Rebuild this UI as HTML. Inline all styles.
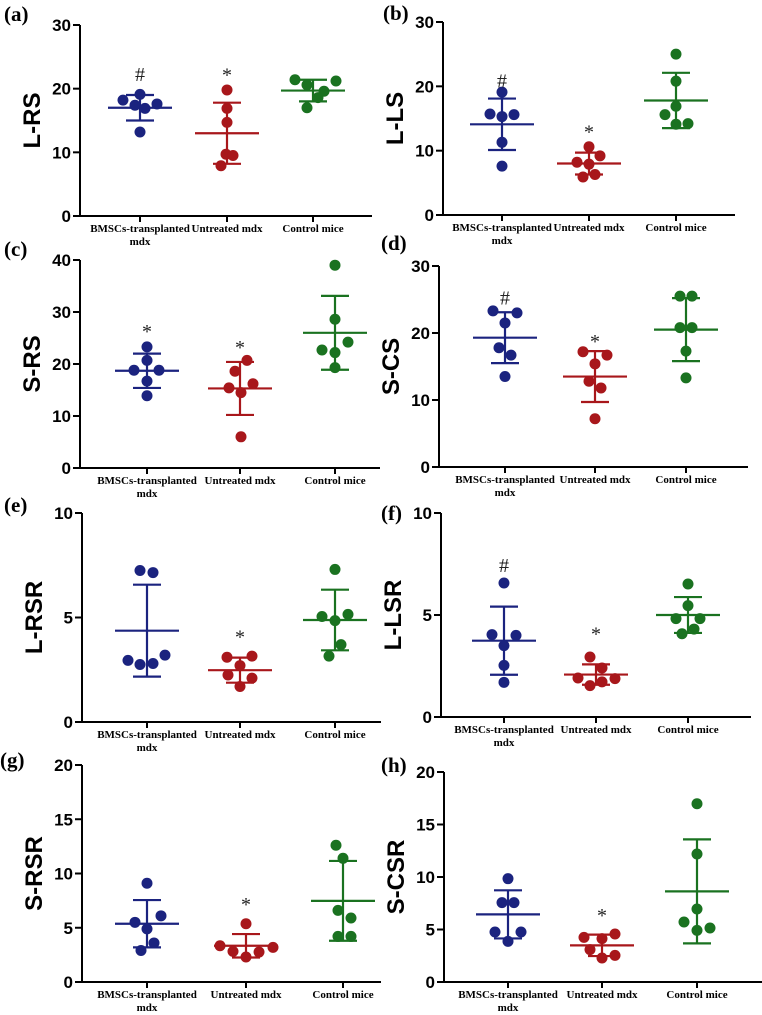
<!DOCTYPE html>
<html><head><meta charset="utf-8"><style>
html,body{margin:0;padding:0;background:#fff}
svg{display:block}
.tk{font-family:"Liberation Sans",Arial,sans-serif;font-weight:bold;font-size:17px}
.yt{font-family:"Liberation Sans",Arial,sans-serif;font-weight:bold;font-size:24px}
.gl{font-family:"Liberation Serif",serif;font-weight:bold;font-size:11px}
.pl{font-family:"Liberation Serif",serif;font-weight:bold;font-size:21px}
.an{font-family:"Liberation Serif",serif;font-size:20px}
</style></head><body>
<svg id="fig" width="762" height="1015" viewBox="0 0 762 1015" xmlns="http://www.w3.org/2000/svg"></svg>
<script>
// ---- data ----
const groupNames = ["BMSCs-transplanted|mdx","Untreated mdx","Control mice"];
const panelIds = ["a","b","c","d","e","f","g","h"];
const yTitles = ["L-RS","L-LS","S-RS","S-CS","L-RSR","L-LSR","S-RSR","S-CSR"];
const yMax = [30,30,40,30,10,10,20,20];
const yStep = [10,10,10,10,5,5,5,5];
const valsA = [[18.2,19.1,17.4,16.9,17.6,13.2],[19.8,16.9,14.7,9.7,9.5,7.9],[21.4,20.6,21.2,19.6,18.6,17.0]];
const valsB = [[19.1,15.7,15.3,15.6,11.3,7.6],[10.6,9.2,8.2,7.9,6.3,5.9],[25.0,20.8,16.9,15.6,14.1,14.2]];
const valsC = [[23.3,20.7,18.8,18.8,16.7,13.9],[20.7,18.6,15.4,16.2,14.5,6.0],[39.0,28.6,24.2,22.7,22.2,19.3]];
const valsD = [[23.3,23.0,21.5,17.8,16.7,13.5],[17.2,16.7,15.4,12.8,11.8,7.2],[25.5,25.5,20.8,20.8,17.3,13.3]];
const valsE = [[7.25,7.15,2.95,2.75,2.8,3.2],[3.1,3.15,2.7,2.25,2.1,1.7],[7.3,5.05,5.15,4.85,3.7,3.15]];
const valsF = [[6.57,4.04,4.0,3.5,2.53,1.7],[2.94,2.4,1.91,1.88,1.72,1.54],[6.52,5.46,4.82,4.82,4.31,4.08]];
const valsG = [[9.1,6.1,5.5,4.9,3.6,2.9],[5.37,3.34,3.19,2.82,2.76,2.3],[12.6,11.4,6.6,5.9,4.2,4.2]];
const valsH = [[9.84,7.56,7.56,4.76,4.76,3.87],[4.25,4.57,4.13,3.08,2.54,2.29],[16.98,12.19,6.95,5.71,4.92,5.14]];
const meansAll = [[17.0,13.0,19.7],[14.1,8.0,17.8],[18.7,15.3,26.0],[19.3,13.5,20.5],[4.37,2.48,4.88],[3.74,2.08,5.0],[5.37,3.34,7.48],[6.44,3.49,8.63]];
const sdAll = [[2.0,4.8,1.7],[4.0,1.7,4.3],[3.3,5.1,7.1],[3.8,3.8,4.7],[2.2,0.6,1.45],[1.67,0.5,0.88],[2.18,1.08,3.68],[2.29,1.02,4.95]];
const annSym = [["#","*",""],["#","*",""],["*","*",""],["#","*",""],["","*",""],["#","*",""],["","*",""],["","*",""]];
const annVal = [[22.3,22.2,0],[20.9,13.0,0],[26.3,23.3,0],[25.3,18.8,0],[0,4.1,0],[7.45,4.1,0],[0,7.2,0],[0,6.4,0]];
const allVals = [valsA,valsB,valsC,valsD,valsE,valsF,valsG,valsH];
// ---- layout (not data) ----
const layout = [
 {ax:80,top:25,zero:216,xe:372,gx:[140,227,313],lx:4,ly:21},
 {ax:443,top:22,zero:215,xe:735,gx:[502,589,676],lx:383,ly:20},
 {ax:80,top:260,zero:468,xe:380,gx:[147,240,335],lx:4,ly:256},
 {ax:439,top:266,zero:467,xe:748,gx:[505,595,686],lx:381,ly:250},
 {ax:82,top:513,zero:722,xe:381,gx:[147,240,335],lx:4,ly:512},
 {ax:441,top:513,zero:717,xe:751,gx:[504,596,688],lx:381,ly:520},
 {ax:82,top:765,zero:982,xe:381,gx:[147,246,343],lx:0,ly:767},
 {ax:444,top:772,zero:982,xe:762,gx:[508,602,697],lx:381,ly:772}
];
const jitter = [
 [[-17,0,-5,5,17,0],[0,0,0,-1,6,-6],[-18,-6,23,11,5,-6]],
 [[0,-12,0,12,0,0],[0,11,-12,0,6,-6],[0,0,0,-11,0,12]],
 [[0,0,-13,12,0,0],[7,-5,-11,13,1,1],[0,0,13,-13,0,0]],
 [[-12,12,0,-6,6,0],[-12,12,0,-6,6,0],[-6,6,-6,6,0,0]],
 [[-7,6,-19,-7,6,18],[-13,12,0,-12,12,0],[0,-13,13,0,6,-6]],
 [[0,-12,12,0,0,0],[-6,6,-18,19,6,-6],[0,0,-12,12,6,-6]],
 [[0,14,-12,0,7,-6],[0,-26,27,-13,13,0],[-7,0,-5,8,-5,8]],
 [[0,-6,6,-13,13,0],[-18,13,0,-12,13,0],[0,0,0,-13,0,13]]
];
const colors = ["#1b237f","#a8171b","#1a7220"];
const NS="http://www.w3.org/2000/svg";
const svg=document.getElementById("fig");
function mk(tag,attrs,parent,text){const e=document.createElementNS(NS,tag);for(const k in attrs)e.setAttribute(k,attrs[k]);if(text!==undefined)e.textContent=text;(parent||svg).appendChild(e);return e;}
panelIds.forEach((pid,p)=>{
  const L=layout[p];
  const g=mk("g",{});
  
  
  const y=v=>L.zero-(v/yMax[p])*(L.zero-L.top);
  const pl=mk("text",{x:L.lx,y:L.ly,class:"pl"},g,"("+pid+")");
  
  
  const ya=mk("line",{x1:L.ax,y1:L.top,x2:L.ax,y2:L.zero+1,stroke:"#000","stroke-width":2},g);
  
  
  const xa=mk("line",{x1:L.ax-1,y1:L.zero,x2:L.xe,y2:L.zero,stroke:"#000","stroke-width":2},g);
  
  
  for(let v=0;v<=yMax[p];v+=yStep[p]){
    mk("line",{x1:L.ax-7,y1:y(v),x2:L.ax,y2:y(v),stroke:"#000","stroke-width":2},g);
    const t=mk("text",{x:L.ax-9,y:y(v)+6,"text-anchor":"end",class:"tk"},g,String(v));
    
    
  }
  const yt=mk("text",{x:0,y:0,"text-anchor":"middle",class:"yt",transform:`translate(${L.ax-40},${(L.top+L.zero)/2}) rotate(-90)`},g,yTitles[p]);
  
  
  groupNames.forEach((nm,gi)=>{
    const gx=L.gx[gi], c=colors[gi];
    mk("line",{x1:gx,y1:L.zero,x2:gx,y2:L.zero+6,stroke:"#000","stroke-width":2},g);
    const parts=nm.split("|");
    parts.forEach((s,k)=>{
      const t=mk("text",{x:gx,y:L.zero+16+k*13,"text-anchor":"middle",class:"gl"},g,s);
      
      
    });
    const m=meansAll[p][gi], sd=sdAll[p][gi];
    const eb=mk("g",{stroke:c,"stroke-width":2.2},g);
    
    
    mk("line",{x1:gx,y1:y(m+sd),x2:gx,y2:y(m-sd)},eb);
    mk("line",{x1:gx-14,y1:y(m+sd),x2:gx+14,y2:y(m+sd)},eb);
    mk("line",{x1:gx-14,y1:y(m-sd),x2:gx+14,y2:y(m-sd)},eb);
    const ml=mk("line",{x1:gx-32,y1:y(m),x2:gx+32,y2:y(m)},eb);
    
    
    allVals[p][gi].forEach((v,i)=>{
      const d=mk("circle",{cx:gx+jitter[p][gi][i],cy:y(v),r:5.5,fill:c},g);
      
      
    });
    if(annSym[p][gi]){
      const a=mk("text",{x:gx,y:y(annVal[p][gi])+7,"text-anchor":"middle",class:"an",fill:"#222"},g,annSym[p][gi]);
      
      
    }
  });
});
</script>
</body></html>
